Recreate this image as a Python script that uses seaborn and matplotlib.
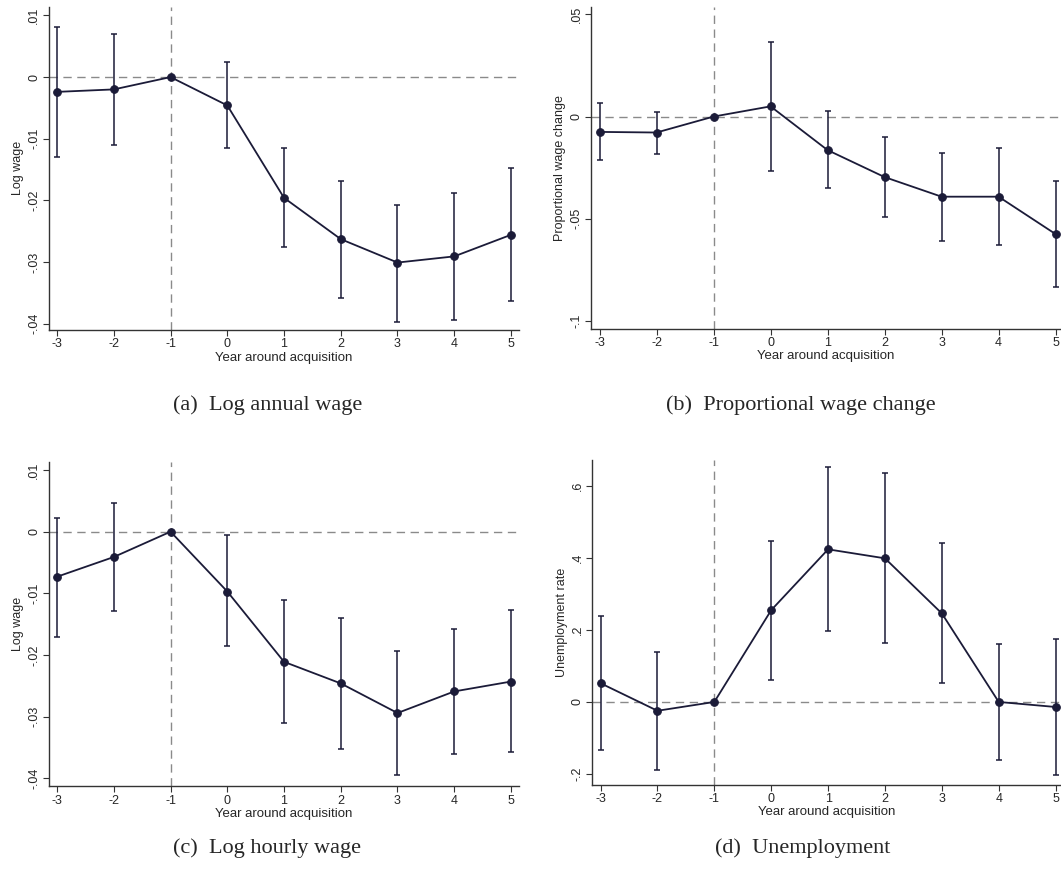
import matplotlib
matplotlib.use("Agg")
import matplotlib.pyplot as plt
import numpy as np
import pandas as pd
import seaborn as sns

years = [-3, -2, -1, 0, 1, 2, 3, 4, 5]

# (a) log annual wage
annual_est = [-0.0024, -0.0020, 0.0, -0.0046, -0.0196, -0.0263, -0.0301, -0.0291, -0.0256]
annual_hi = [0.0082, 0.0070, 0.0, 0.0025, -0.0115, -0.0168, -0.0207, -0.0188, -0.0148]
annual_lo = [-0.0129, -0.0110, 0.0, -0.0115, -0.0275, -0.0359, -0.0397, -0.0394, -0.0363]

# (b) proportional wage change
prop_est = [-0.0075, -0.0078, 0.0, 0.0050, -0.0164, -0.0296, -0.0392, -0.0392, -0.0575]
prop_hi = [0.0066, 0.0022, 0.0, 0.0364, 0.0025, -0.0101, -0.0178, -0.0153, -0.0317]
prop_lo = [-0.0213, -0.0181, 0.0, -0.0264, -0.0350, -0.0493, -0.0608, -0.0630, -0.0836]

# (c) log hourly wage
hourly_est = [-0.0073, -0.0041, 0.0, -0.0097, -0.0211, -0.0246, -0.0294, -0.0259, -0.0243]
hourly_hi = [0.0022, 0.0047, 0.0, -0.0006, -0.0110, -0.0140, -0.0194, -0.0157, -0.0127]
hourly_lo = [-0.0170, -0.0128, 0.0, -0.0186, -0.0310, -0.0352, -0.0394, -0.0361, -0.0358]

# (d) unemployment
unemp_est = [0.052, -0.0245, 0.0, 0.255, 0.424, 0.399, 0.246, 0.0, -0.014]
unemp_hi = [0.239, 0.140, 0.0, 0.448, 0.652, 0.635, 0.442, 0.162, 0.175]
unemp_lo = [-0.133, -0.189, 0.0, 0.062, 0.196, 0.164, 0.054, -0.162, -0.202]

wage_ticks = [0.01, 0.0, -0.01, -0.02, -0.03, -0.04]
wage_labels = [".01", "0", "-.01", "-.02", "-.03", "-.04"]
prop_ticks = [0.05, 0.0, -0.05, -0.1]
prop_labels = [".05", "0", "-.05", "-.1"]
unemp_ticks = [0.6, 0.4, 0.2, 0.0, -0.2]
unemp_labels = [".6", ".4", ".2", "0", "-.2"]

ylabels = ["Log wage", "Proportional wage change", "Log wage", "Unemployment rate"]
captions = ["(a)  Log annual wage", "(b)  Proportional wage change",
            "(c)  Log hourly wage", "(d)  Unemployment"]

sns.set_style("ticks")
plt.rcParams["font.family"] = ["Liberation Sans", "DejaVu Sans"]

LINE = "#1b1b38"
DASH = "#8a8a8a"


def event_panel(fig, rect, est, lo, hi, ticks, labels, ylabel, ylim, xlim):
    ax = fig.add_axes(rect)
    df = pd.DataFrame({"year": years, "est": est, "lo": lo, "hi": hi})
    ax.axhline(0, color=DASH, lw=1.0, dashes=(6, 4), zorder=1)
    ax.axvline(-1, color=DASH, lw=1.0, dashes=(6, 4), zorder=1)
    ax.errorbar(df["year"], df["est"],
                yerr=[df["est"] - df["lo"], df["hi"] - df["est"]],
                fmt="none", ecolor=LINE, elinewidth=1.1, capsize=2.5, capthick=1.1, zorder=2)
    sns.lineplot(data=df, x="year", y="est", ax=ax, color=LINE, lw=1.3,
                 marker="o", markersize=5.5, markeredgecolor=LINE, zorder=3)
    ax.set_xlim(*xlim)
    ax.set_ylim(*ylim)
    ax.set_xticks(years)
    ax.set_xticklabels([str(y) for y in years], fontsize=9)
    ax.set_yticks(ticks)
    ax.set_yticklabels(labels, fontsize=9, rotation=90, va="center")
    ax.set_xlabel("Year around acquisition", fontsize=9.5, labelpad=1)
    ax.set_ylabel(ylabel, fontsize=9, labelpad=3)
    ax.tick_params(length=4, width=0.8, color="#333333", pad=2)
    sns.despine(ax=ax)
    for s in ("left", "bottom"):
        ax.spines[s].set_color("#333333")
        ax.spines[s].set_linewidth(1.0)
    return ax


fig = plt.figure(figsize=(10.61, 8.77), dpi=100)

event_panel(fig, [0.0458, 0.6237, 0.4438, 0.3685], annual_est, annual_lo, annual_hi,
            wage_ticks, wage_labels, ylabels[0], (-0.04105, 0.0114), (-3.15, 5.15))
event_panel(fig, [0.557, 0.6252, 0.443, 0.367], prop_est, prop_lo, prop_hi,
            prop_ticks, prop_labels, ylabels[1], (-0.1038, 0.0537), (-3.15, 5.095))
event_panel(fig, [0.0458, 0.1033, 0.4438, 0.3699], hourly_est, hourly_lo, hourly_hi,
            wage_ticks, wage_labels, ylabels[2], (-0.0413, 0.0113), (-3.15, 5.15))
event_panel(fig, [0.558, 0.1052, 0.442, 0.3698], unemp_est, unemp_lo, unemp_hi,
            unemp_ticks, unemp_labels, ylabels[3], (-0.230, 0.671), (-3.15, 5.095))

cap_pos = [(0.252, 1 - 405 / 877), (0.755, 1 - 405 / 877),
           (0.252, 1 - 848 / 877), (0.757, 1 - 848 / 877)]
for (x, y), txt in zip(cap_pos, captions):
    fig.text(x, y, txt, ha="center", va="center", fontsize=16,
             family=["Liberation Serif", "DejaVu Serif"])

fig.savefig("out.png", dpi=100)
